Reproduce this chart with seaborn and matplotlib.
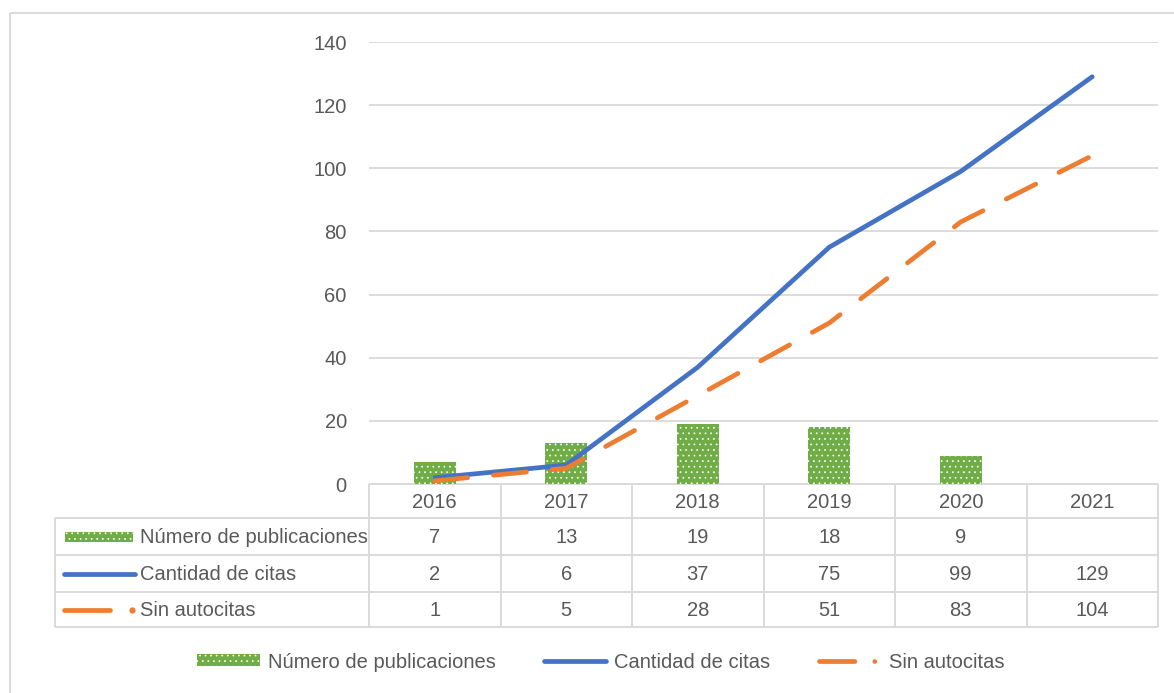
import numpy as np
import pandas as pd
import matplotlib
matplotlib.use("Agg")
import matplotlib.pyplot as plt
import matplotlib.transforms as mtransforms
from matplotlib.patches import Rectangle, Patch
from matplotlib.lines import Line2D
import seaborn as sns

# ---- data ----
years = ["2016", "2017", "2018", "2019", "2020", "2021"]
publicaciones = [7, 13, 19, 18, 9, np.nan]
citas = [2, 6, 37, 75, 99, 129]
sin_autocitas = [1, 5, 28, 51, 83, 104]
series_names = ["Número de publicaciones", "Cantidad de citas", "Sin autocitas"]
yticks = [0, 20, 40, 60, 80, 100, 120, 140]

GREEN = "#70AD47"
BLUE = "#4472C4"
ORANGE = "#ED7D31"
TXT = "#595959"
GRID = "#D9D9D9"

sns.set_theme(style="white")
plt.rcParams["font.family"] = ["Liberation Sans", "DejaVu Sans"]
plt.rcParams["hatch.linewidth"] = 0.5
FS = 14.5
HATCH = "..."
LW = 3.4

W, H = 1174, 693
fig = plt.figure(figsize=(W / 100, H / 100), dpi=100)

# overlay axes in pixel coordinates for frame/table
ov = fig.add_axes([0, 0, 1, 1], zorder=0)
ov.set_xlim(0, W)
ov.set_ylim(H, 0)
ov.axis("off")

L, R, T, B = 369, 1158, 42, 484
ax = fig.add_axes([L / W, 1 - B / H, (R - L) / W, (B - T) / H], zorder=1)
ax.patch.set_alpha(0)

df = pd.DataFrame({"year": years, "pub": publicaciones})
xs = np.arange(len(years))
sns.barplot(data=df, x="year", y="pub", color=GREEN, width=0.32, ax=ax,
            saturation=1, linewidth=0, zorder=2)
for p in ax.patches:
    p.set_hatch(HATCH)
    p.set_edgecolor("white")
    p.set_linewidth(0)

sns.lineplot(x=xs, y=citas, color=BLUE, linewidth=LW, ax=ax, zorder=3,
             solid_capstyle="round")
sns.lineplot(x=xs, y=sin_autocitas, color=ORANGE, linewidth=LW, ax=ax, zorder=3,
             dashes=False)
ax.lines[-1].set_dashes([7, 5.5])
ax.lines[-1].set_dash_capstyle("round")

ax.set_xlim(-0.5, len(years) - 0.5)
ax.set_ylim(0, 140)
ax.set_yticks(yticks)
ax.set_yticklabels([str(v) for v in yticks], fontsize=FS, color=TXT)
ax.tick_params(axis="y", length=0, pad=16)
ax.set_xticks([])
ax.set_xlabel("")
ax.set_ylabel("")
for s in ax.spines.values():
    s.set_visible(False)
ax.grid(False)
for v in yticks[1:]:
    ax.axhline(v, color=GRID, lw=1.3, zorder=0)

# ---- outer frame ----
ov.add_patch(Rectangle((10, 13), W, H, fill=False, ec=GRID, lw=1.4))

# ---- data table ----
rows_y = [484, 518, 555, 592, 627]
HL = 55
lc = dict(color=GRID, lw=1.4, solid_capstyle="butt")
ov.plot([L, R], [rows_y[0]] * 2, **lc)
for yy in rows_y[1:]:
    ov.plot([HL, R], [yy, yy], **lc)
ov.plot([HL, HL], [rows_y[1], rows_y[-1]], **lc)
bt = mtransforms.blended_transform_factory(ax.transData, ov.transData)
for i in range(len(years) + 1):
    ov.plot([i - 0.5, i - 0.5], [rows_y[0], rows_y[-1]], transform=bt, **lc)

cols = [years,
        ["" if np.isnan(v) else f"{int(v)}" for v in publicaciones],
        [str(v) for v in citas],
        [str(v) for v in sin_autocitas]]
for r, vals in enumerate(cols):
    yc = (rows_y[r] + rows_y[r + 1]) / 2 + 1
    for i, v in enumerate(vals):
        ov.text(i, yc, v, transform=bt, ha="center", va="center",
                fontsize=FS, color=TXT)

OR_LEG_DASH = [7.5, 4.2, 0.01, 30]

# row header icons + labels
for r, name in enumerate(series_names):
    yc = (rows_y[r + 1] + rows_y[r + 2]) / 2
    if r == 0:
        ov.add_patch(Rectangle((65, yc - 5), 68, 10, fc=GREEN, ec="white",
                               lw=0, hatch=HATCH))
    elif r == 1:
        ov.plot([64, 135], [yc, yc], color=BLUE, lw=LW, solid_capstyle="round")
    else:
        ov.plot([64, 110], [yc, yc], color=ORANGE, lw=LW, solid_capstyle="round")
        ov.plot([132], [yc], "o", color=ORANGE, ms=3.5)
    ov.text(140, yc + 1, name, ha="left", va="center", fontsize=FS, color=TXT)

# ---- bottom legend ----
h_bar = Patch(facecolor=GREEN, edgecolor="white", hatch=HATCH, linewidth=0)
h_blue = Line2D([], [], color=BLUE, lw=LW, solid_capstyle="round")
h_or = Line2D([], [], color=ORANGE, lw=LW, dashes=OR_LEG_DASH, dash_capstyle="round")
leg = fig.legend([h_bar, h_blue, h_or], series_names, loc="center",
                 bbox_to_anchor=(0.5 + 14 / W, 1 - 662 / H), ncol=3, frameon=False,
                 fontsize=FS, handlelength=3.1, handleheight=0.55,
                 columnspacing=2.4, handletextpad=0.4)
for t in leg.get_texts():
    t.set_color(TXT)

fig.savefig("out.png", dpi=100, facecolor="white")
